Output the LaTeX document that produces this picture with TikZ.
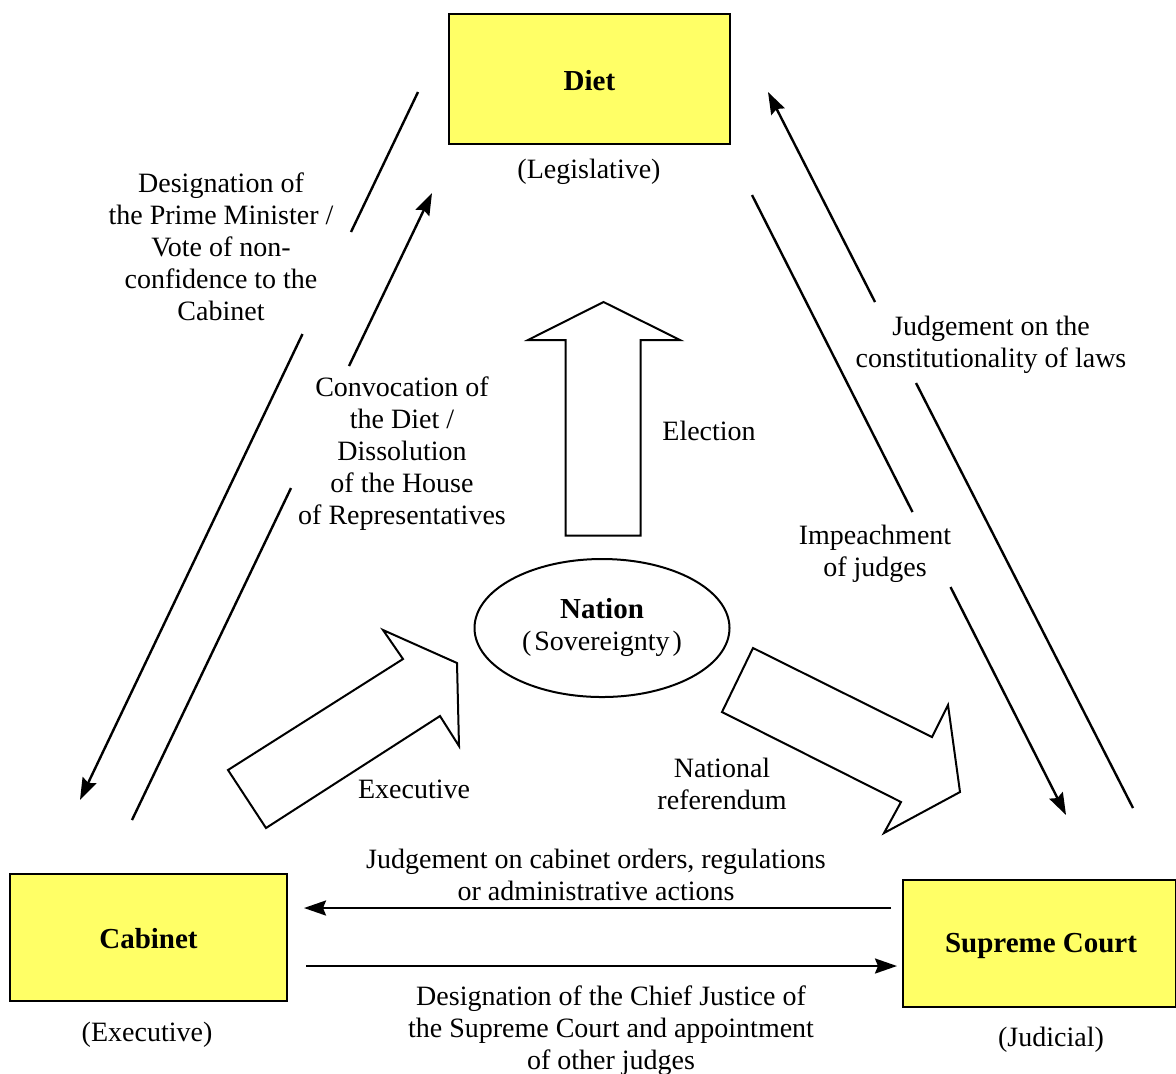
\documentclass[tikz,border=0pt]{standalone}
\usepackage{fontspec}
\setmainfont{Liberation Serif}
\usetikzlibrary{arrows.meta}
\definecolor{boxyellow}{HTML}{FFFF66}
\begin{document}
\begin{tikzpicture}[x=0.5pt,y=-0.5pt,
  every node/.style={font=\fontsize{14}{16}\selectfont},
  org/.style={draw=black,line width=1pt,fill=boxyellow,font=\fontsize{14.5}{16}\selectfont\bfseries,inner sep=0pt},
  lbl/.style={align=center,inner sep=0pt},
  ln/.style={line width=1.2pt},
  arr/.style={line width=1.2pt,-{Stealth[length=11pt,width=7.5pt,inset=1.5pt]}},
  blk/.style={draw=black,line width=1pt,fill=white,line join=miter}]
\useasboundingbox (0,0) rectangle (1176,1073);

% boxes
\node[org,minimum width=140.5pt,minimum height=65pt] (diet) at (589.5,79) {};
\node[org,minimum width=138.5pt,minimum height=63.5pt] (cab) at (148.5,937.5) {};
\node[org,minimum width=136.5pt,minimum height=63.5pt] (sc) at (1039.5,943.5) {};
\node[lbl,font=\fontsize{14.5}{16}\selectfont\bfseries] (dietT) at (589.5,81) {Diet};
\node[lbl,font=\fontsize{14.5}{16}\selectfont\bfseries] (cabT) at (148.5,939) {Cabinet};
\node[lbl,font=\fontsize{14.5}{16}\selectfont\bfseries] (scT) at (1041,946) {Supreme Court};
\node[lbl] (leg) at (589,172) {(Legislative)};
\node[lbl] (exe) at (147,1035) {(Executive)};
\node[lbl] (jud) at (1051,1040) {(Judicial)};

% nation
\draw[line width=1pt] (602,628) ellipse [x radius=127.5, y radius=69];
\node[lbl] (nation) at (602,627) {{\fontsize{14.5}{16}\selectfont\textbf{Nation}}\\(\kern1.5pt Sovereignty\kern1.5pt)};

% block arrows
\draw[blk] (603.5,302) -- (680,340) -- (640.5,340) -- (640.5,535.5) -- (565.5,535.5) -- (565.5,340) -- (528,340) -- cycle;
\draw[blk] (228,770) -- (403,659) -- (383,630) -- (457,663) -- (459,746) -- (440,716) -- (266,828) -- cycle;
\draw[blk] (753,648) -- (932,737) -- (948,705) -- (960,792) -- (884,833) -- (901,802) -- (722,712) -- cycle;

% coordinates of the long connectors
\coordinate (lo1) at (418,92);
\coordinate (lo2) at (351,232);
\coordinate (lo3) at (302.5,334);
\coordinate (lo4) at (80,800);
\coordinate (li1) at (132,820);
\coordinate (li2) at (291,488);
\coordinate (li3) at (349,366);
\coordinate (li4) at (432,193);
\coordinate (ro1) at (1133,808);
\coordinate (ro2) at (916,383);
\coordinate (ro3) at (875,302);
\coordinate (ro4) at (768,92);
\coordinate (ri1) at (752,195);
\coordinate (ri2) at (912.5,512);
\coordinate (ri3) at (950.5,587);
\coordinate (ri4) at (1066,815);

\draw[ln] (lo1) -- (lo2);
\draw[arr] (lo3) -- (lo4);
\draw[ln] (li1) -- (li2);
\draw[arr] (li3) -- (li4);
\draw[ln] (ro1) -- (ro2);
\draw[arr] (ro3) -- (ro4);
\draw[ln] (ri1) -- (ri2);
\draw[arr] (ri3) -- (ri4);

\coordinate (h1s) at (891,908);
\coordinate (h1e) at (304,908);
\coordinate (h2s) at (306,966);
\coordinate (h2e) at (897,966);
\draw[arr] (h1s) -- (h1e);
\draw[arr] (h2s) -- (h2e);

% labels
\node[lbl] (t1) at (221,247) {Designation of\\the Prime Minister /\\Vote of non-\\confidence to the\\Cabinet};
\node[lbl] (t2) at (402,454) {Convocation of\\the Diet /\\Dissolution\\of the House\\of Representatives};
\node[lbl,anchor=west] (t3) at (662,431) {Election};
\node[lbl] (t4) at (991,345) {Judgement on the\\constitutionality of laws};
\node[lbl] (t5) at (875,554) {Impeachment\\of judges};
\node[lbl] (t6) at (414,789) {Executive};
\node[lbl] (t7) at (722,784) {National\\referendum};
\node[lbl] (t8) at (596,875) {Judgement on cabinet orders, regulations\\or administrative actions};
\node[lbl] (t9) at (611,1031) {Designation of the Chief Justice of\\the Supreme Court and appointment\\of other judges};
\end{tikzpicture}
\end{document}
